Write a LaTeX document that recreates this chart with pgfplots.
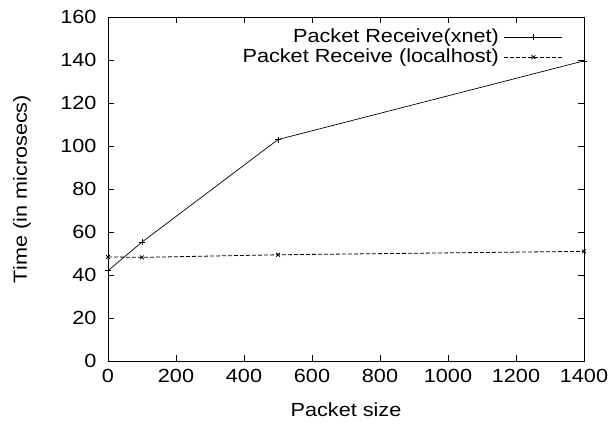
\documentclass[border=0pt]{standalone}
\usepackage{fontspec}
\setmainfont{Liberation Sans}[FakeStretch=1.14]
\usepackage{pgfplots}
\pgfplotsset{compat=1.18}

\begin{document}
\begin{tikzpicture}[font=\fontsize{19}{22}\selectfont]
\begin{axis}[
    scale only axis,
    width=476pt, height=344pt,
    xmin=0, xmax=1400, ymin=0, ymax=160,
    xtick={0,200,...,1400},
    ytick={0,20,...,160},
    tick align=inside,
    major tick length=6pt,
    tick style={black, line width=0.8pt},
    axis line style={line width=0.8pt},
    /pgf/number format/assume math mode=true,
    /pgf/number format/1000 sep={},
    tick label style={font=\fontsize{19}{22}\selectfont},
    label style={font=\fontsize{19}{22}\selectfont},
    yticklabel style={xshift=-8pt},
    xticklabel style={yshift=-5pt},
    xlabel={Packet size},
    ylabel={Time (in microsecs)},
    xlabel style={at={(axis description cs:0.5,0)}, anchor=center, yshift=-49pt},
    ylabel style={at={(axis description cs:0,0.5)}, anchor=center, yshift=86pt},
    legend style={draw=none, fill=none, legend cell align=right,
        font=\fontsize{19}{22}\selectfont, inner sep=0pt,
        at={(1,1)}, anchor=north east, xshift=-21pt, yshift=-11pt, row sep=2pt,
        nodes={inner xsep=5pt, inner ysep=0pt, text height=14pt, text depth=4pt}},
    legend plot pos=right,
    legend image code/.code={
        \draw[#1, mark=none] (0pt,0pt) -- (58pt,0pt);
        \draw[#1, solid] plot coordinates {(29pt,0pt)};
    },
]
\addplot[black, line width=0.7pt, mark=+, mark size=3pt]
coordinates {(0,42.0)(100,55.3)(500,103.0)(1400,139.6)};
\addlegendentry{Packet Receive(xnet)}
\addplot[black, line width=0.8pt, dash pattern=on 4pt off 2pt, mark=x, mark size=2.7pt, mark options={solid}]
coordinates {(0,48.4)(100,48.2)(500,49.4)(1400,51.0)};
\addlegendentry{Packet Receive (localhost)}
\coordinate (sw) at (rel axis cs:0,0);
\coordinate (ne) at (rel axis cs:1,1);
\end{axis}
\pgfresetboundingbox
\path ([xshift=-108pt,yshift=-67pt]sw) rectangle ([xshift=30pt,yshift=17pt]ne);
\end{tikzpicture}
\end{document}
